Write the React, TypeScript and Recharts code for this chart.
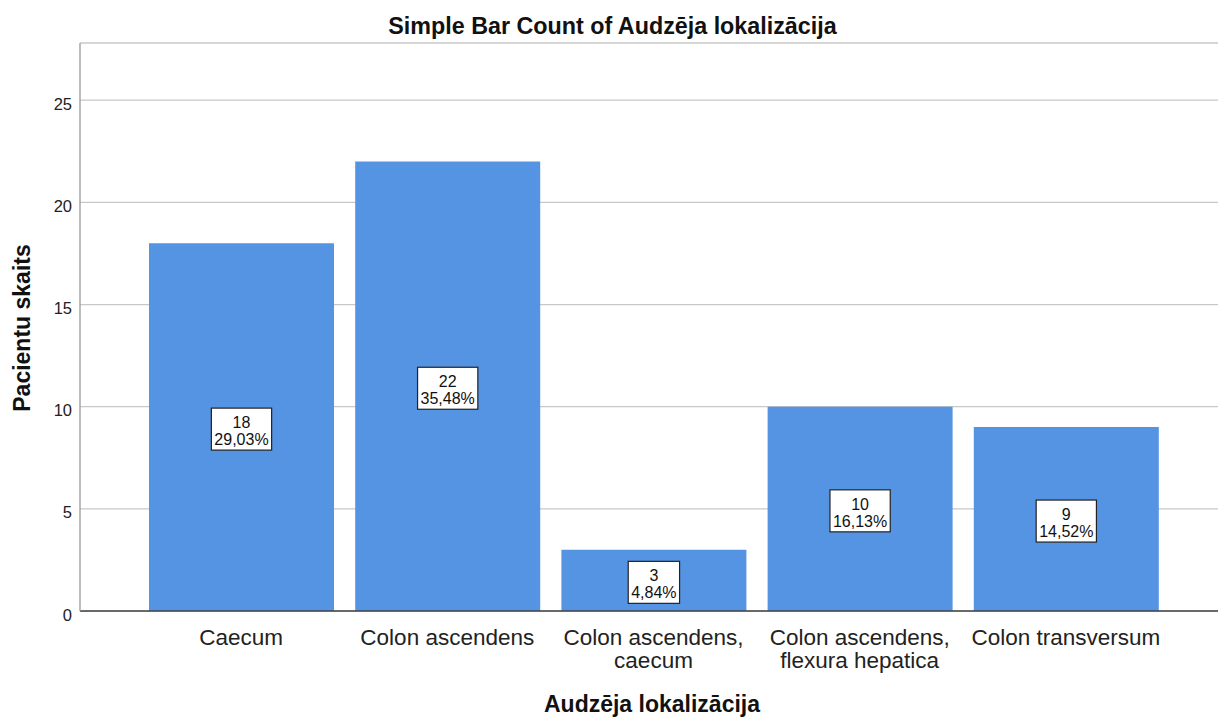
import React from 'react';
import { BarChart, Bar, XAxis, YAxis, CartesianGrid, LabelList, Label } from 'recharts';

// Tumour localisation counts
const categories: string[] = [
  'Caecum',
  'Colon ascendens',
  'Colon ascendens,\ncaecum',
  'Colon ascendens,\nflexura hepatica',
  'Colon transversum',
];
const counts: number[] = [18, 22, 3, 10, 9];
const yTicks: number[] = [0, 5, 10, 15, 20, 25];

const FONT = '"Liberation Sans", Arial, Helvetica, sans-serif';
const BAR_COLOR = '#5594e2';

const total = counts.reduce((a, b) => a + b, 0);
const data = categories.map((name, i) => ({ name, count: counts[i] }));

const pctText = (v: number) => ((v / total) * 100).toFixed(2).replace('.', ',') + '%';

// rough Arial widths (em) for sizing the label boxes
const charW = (c: string) => {
  if (c >= '0' && c <= '9') return 0.556;
  if (c === ',') return 0.278;
  if (c === '%') return 0.889;
  return 0.556;
};
const textWidth = (s: string, size: number) =>
  s.split('').reduce((a, c) => a + charW(c), 0) * size;

const XTick = (props: any) => {
  const { x, y, payload } = props;
  const lines = String(payload.value).split('\n');
  return (
    <g transform={`translate(${x},${y})`}>
      <text textAnchor="middle" fill="#222" fontFamily={FONT} fontSize={22.5}>
        {lines.map((ln, i) => (
          <tspan key={i} x={0} y={32 + i * 23}>
            {ln}
          </tspan>
        ))}
      </text>
    </g>
  );
};

const YTick = (props: any) => {
  const { y, payload } = props;
  return (
    <text x={72} y={y + 9.5} textAnchor="end" fill="#222" fontFamily={FONT} fontSize={16.5}>
      {payload.value}
    </text>
  );
};

const ValueBox = (props: any) => {
  const { x, y, width, height, value } = props;
  const cx = x + width / 2;
  const cy = y + height / 2;
  const l1 = String(value);
  const l2 = pctText(Number(value));
  const fs = 16;
  const w = Math.max(textWidth(l1, fs), textWidth(l2, fs)) + 6;
  return (
    <g>
      <rect x={cx - w / 2} y={cy - 19} width={w} height={42} fill="#fff" stroke="#222" strokeWidth={1.2} />
      <text textAnchor="middle" fill="#111" fontFamily={FONT} fontSize={fs}>
        <tspan x={cx} y={cy + 1}>{l1}</tspan>
        <tspan x={cx} y={cy + 18}>{l2}</tspan>
      </text>
    </g>
  );
};

export default function App() {
  return (
    <div style={{ position: 'absolute', left: 0, top: 0, width: 1218, height: 717, background: '#fff' }}>
      <div
        style={{
          position: 'absolute',
          left: 0,
          top: 13,
          width: 1225,
          textAlign: 'center',
          fontFamily: FONT,
          fontWeight: 'bold',
          fontSize: 23.3,
          color: '#111',
          lineHeight: '26px',
        }}
      >
        Simple Bar Count of Audzēja lokalizācija
      </div>
      <BarChart
        width={1218}
        height={717}
        data={data}
        margin={{ top: 43, right: 0, bottom: 0, left: 0 }}
      >
        <CartesianGrid horizontal vertical={false} stroke="#c8c8c8" strokeWidth={1.3} />
        <XAxis
          dataKey="name"
          height={106}
          padding={{ left: 58, right: 49 }}
          tickLine={false}
          tickSize={0}
          tick={<XTick />}
          interval={0}
          stroke="#444"
          strokeWidth={1.3}
        >
          <Label
            content={() => (
              <text
                x={652}
                y={712}
                textAnchor="middle"
                fontFamily={FONT}
                fontWeight="bold"
                fontSize={23}
                fill="#111"
              >
                Audzēja lokalizācija
              </text>
            )}
          />
        </XAxis>
        <YAxis
          width={80}
          domain={[0, 27.8]}
          ticks={yTicks}
          tickLine={false}
          tickSize={0}
          tick={<YTick />}
          stroke="#999"
          strokeWidth={1.3}
          allowDataOverflow
        >
          <Label
            content={() => (
              <text
                x={30}
                y={328}
                textAnchor="middle"
                transform="rotate(-90 30 328)"
                fontFamily={FONT}
                fontWeight="bold"
                fontSize={23}
                fill="#111"
              >
                Pacientu skaits
              </text>
            )}
          />
        </YAxis>
        <Bar dataKey="count" fill={BAR_COLOR} barSize={185} isAnimationActive={false}>
          <LabelList dataKey="count" content={<ValueBox />} />
        </Bar>
      </BarChart>
    </div>
  );
}
